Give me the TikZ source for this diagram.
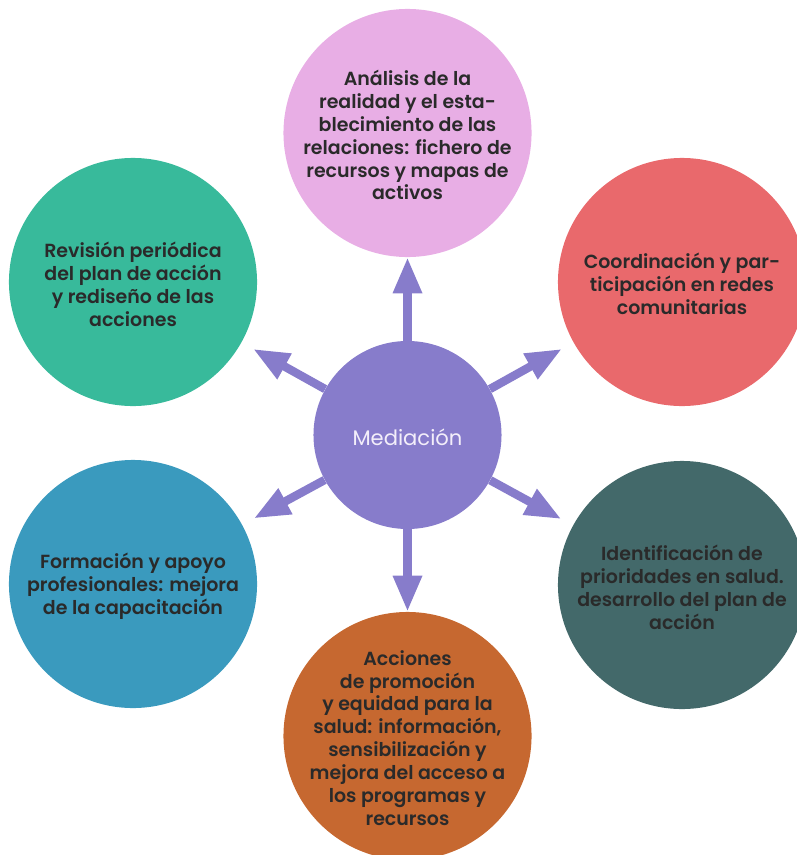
\documentclass[tikz,border=0pt]{standalone}
\usepackage{fontspec}
\setmainfont{Poppins}[BoldFont={Poppins SemiBold}]
\usetikzlibrary{arrows.meta}

\definecolor{pinkfill}{HTML}{E8AEE5}
\definecolor{redfill}{HTML}{E9696C}
\definecolor{greenfill}{HTML}{38BA9B}
\definecolor{bluefill}{HTML}{3A9ABE}
\definecolor{tealfill}{HTML}{43696A}
\definecolor{orangefill}{HTML}{C66830}
\definecolor{medfill}{HTML}{877CCB}
\definecolor{textdark}{HTML}{2A2A2A}
\definecolor{medtext}{HTML}{F3EEFA}

\begin{document}
\begin{tikzpicture}[
		x=0.025cm, y=-0.025cm,
		bubble/.style={circle, minimum size=6.2cm, inner sep=0pt},
		bubble_text/.style={align=center, text=textdark, font=\fontsize{13.5}{16.3}\selectfont\bfseries},
		spoke/.style={draw=medfill, line width=6pt, -{Triangle[length=0.9cm, width=0.68cm]}}
	]
  \useasboundingbox (0,0) rectangle (796,855);
  \node (med) [circle, fill=medfill, minimum size=4.7cm] at (407.5,435) {};
  \node (med_label) [text=medtext, font=\fontsize{15}{18}\selectfont] at (407.5,437) {Mediación};
  \node (top) [bubble, fill=pinkfill] at (407.5,133) {};
  \node (top_label) [bubble_text] at (407.5,135) {Análisis de la\\ realidad y el esta-\\ blecimiento de las\\ relaciones: fichero de\\ recursos y mapas de\\ activos};
  \node (right_up) [bubble, fill=redfill] at (682,282) {};
  \node (right_up_label) [bubble_text] at (682,284) {Coordinación y par-\\ ticipación en redes\\ comunitarias};
  \node (right_down) [bubble, fill=tealfill] at (682,585) {};
  \node (right_down_label) [bubble_text] at (682,587) {Identificación de\\ prioridades en salud.\\ desarrollo del plan de\\ acción};
  \node (bottom) [bubble, fill=orangefill] at (407.5,736) {};
  \node (bottom_label) [bubble_text] at (407.5,738) {Acciones\\ de promoción\\ y equidad para la\\ salud: información,\\ sensibilización y\\ mejora del acceso a\\ los programas y\\ recursos};
  \node (left_down) [bubble, fill=bluefill] at (133,584) {};
  \node (left_down_label) [bubble_text] at (133,586) {Formación y apoyo\\ profesionales: mejora\\ de la capacitación};
  \node (left_up) [bubble, fill=greenfill] at (133,282) {};
  \node (left_up_label) [bubble_text] at (133,284) {Revisión periódica\\ del plan de acción\\ y rediseño de las\\ acciones};
  \draw [spoke] (med) -- (top);
  \draw [spoke] (med) -- (bottom);
  \draw [spoke, shorten >=0.33cm] (med) -- (right_up);
  \draw [spoke, shorten >=0.33cm] (med) -- (right_down);
  \draw [spoke, shorten >=0.33cm] (med) -- (left_up);
  \draw [spoke, shorten >=0.33cm] (med) -- (left_down);
\end{tikzpicture}
\end{document}
